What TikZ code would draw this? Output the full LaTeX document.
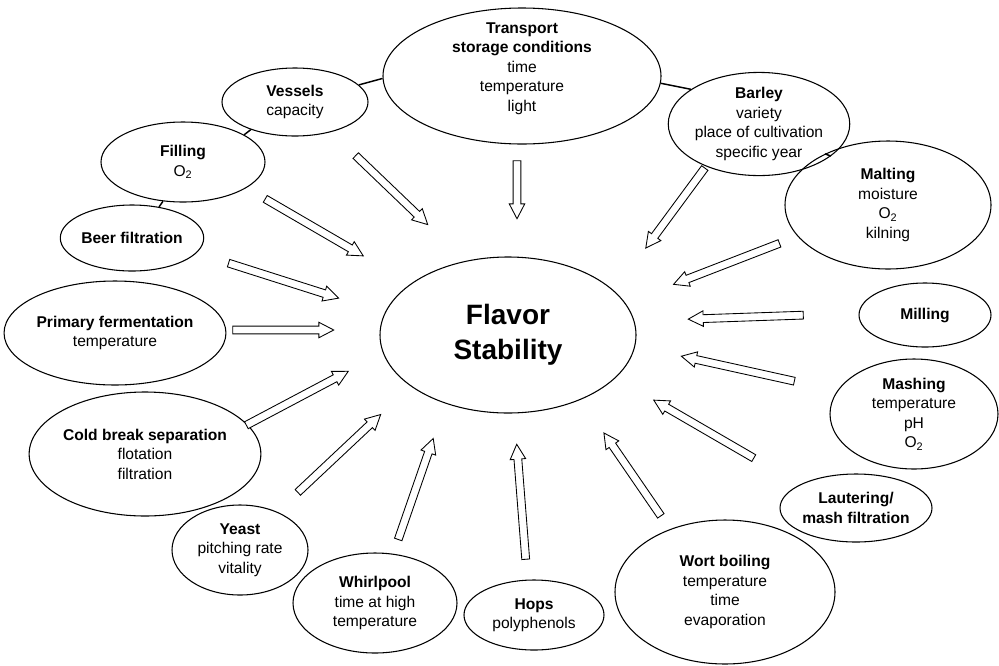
\documentclass[tikz,border=0pt]{standalone}
\usepackage{fontspec}
\setmainfont{Liberation Sans}
\usetikzlibrary{shapes.geometric,shapes.arrows,calc}
\tikzset{
  ell/.style={ellipse, draw, line width=0.8pt, inner sep=0pt, align=center,
    font=\fontsize{11.7}{14.6}\selectfont},
  esize/.style 2 args={minimum width=#1*1.5pt, minimum height=#2*1.5pt},
  txt/.style={inner sep=0pt, align=center, font=\fontsize{11.7}{14.6}\selectfont},
  link/.style={line width=1.1pt},
  fatarrow/.style={single arrow, draw, line width=0.65pt, inner sep=2.6pt,
    single arrow head extend=2.9pt, single arrow tip angle=55, fill=white},
}
\newcommand\hollowarrow[2]{%
  \path let \p1=($(#2)-(#1)$), \n1={atan2(\y1,\x1)}, \n2={veclen(\x1,\y1)} in
    node[fatarrow, minimum height=\n2, rotate=\n1] (arr#1) at ($(#1)!0.5!(#2)$) {};}
\begin{document}
\begin{tikzpicture}[x=0.75pt, y=-0.75pt]
\useasboundingbox (0,0) rectangle (999,665);

% centre
\node[ell, esize={128}{78}, font=\fontsize{21}{26}\selectfont\bfseries] (flavor) at (508,335) {Flavor\\Stability};

% surrounding factors
\node[ell, esize={139}{68}] (transport) at (522,76) {};
\node[txt] (transporttext) at (522,68.5) {\textbf{Transport}\\\textbf{storage conditions}\\time\\temperature\\light};
\node[ell, esize={73}{34}] (vessels) at (295,102) {\textbf{Vessels}\\capacity};
\node[ell, esize={82}{40}] (filling) at (183,162) {\textbf{Filling}\\O\textsubscript{2}};
\node[ell, esize={70}{33}] (beer) at (132,238) {\textbf{Beer filtration}};
\node[ell, esize={108}{52}] (primary) at (115,333) {\textbf{Primary fermentation}\\temperature};
\node[ell, esize={101}{62}] (coldbreak) at (145,454) {\textbf{Cold break separation}\\flotation\\filtration};
\node[ell, esize={68}{45}] (yeast) at (240,550) {\textbf{Yeast}\\pitching rate\\vitality};
\node[ell, esize={82}{50}] (whirlpool) at (375,603) {\textbf{Whirlpool}\\time at high\\temperature};
\node[ell, esize={70}{35}] (hops) at (534,615) {\textbf{Hops}\\polyphenols};
\node[ell, esize={110}{72}] (wort) at (725,592) {\textbf{Wort boiling}\\temperature\\time\\evaporation};
\node[ell, esize={70}{34}] (lautering) at (856,508) {\textbf{Lautering/}\\\textbf{mash filtration}};
\node[ell, esize={84}{55}] (mashing) at (914,414) {\textbf{Mashing}\\temperature\\pH\\O\textsubscript{2}};
\node[ell, esize={66}{32}] (milling) at (925,315) {\textbf{Milling}};
\node[ell, esize={103}{64}] (malting) at (888,205) {\textbf{Malting}\\moisture\\O\textsubscript{2}\\kilning};
\node[ell, esize={81}{44}] (barley) at (759,124) {\textbf{Barley}\\variety\\place of cultivation\\specific year};

% short links between neighbouring ellipses
\draw[link] (vessels.15) -- (transport.181);
\draw[link] (vessels.212) -- (filling.24);
\draw[link] (filling.243) -- (beer.49);
\draw[link] (transport.-3) -- (barley.153);
\draw[link] (barley.-24) -- (malting.141);

% arrow tails (t) and tips (h)
\coordinate (vt) at (353,153);  \coordinate (vh) at (425,222);
\coordinate (ft) at (262,197);  \coordinate (fh) at (360,254);
\coordinate (bt) at (225,262);  \coordinate (bh) at (335,297);
\coordinate (pt) at (229,330);  \coordinate (ph) at (330,330);
\coordinate (ct) at (243,427);  \coordinate (ch) at (345,373);
\coordinate (yt) at (295,495);  \coordinate (yh) at (378,417);
\coordinate (wt) at (397,543);  \coordinate (wh) at (432,442);
\coordinate (ht) at (526,563);  \coordinate (hh) at (517,448);
\coordinate (ot) at (663,519);  \coordinate (oh) at (606,436);
\coordinate (lt) at (757,460);  \coordinate (lh) at (657,402);
\coordinate (mt) at (798,382);  \coordinate (mh) at (685,357);
\coordinate (it) at (807,315);  \coordinate (ih) at (692,319);
\coordinate (at) at (783,242);  \coordinate (ah) at (677,283);
\coordinate (rt) at (707,165);  \coordinate (rh) at (648,245);
\coordinate (tt) at (517,157);  \coordinate (th) at (517,215);

\hollowarrow{vt}{vh}
\hollowarrow{ft}{fh}
\hollowarrow{bt}{bh}
\hollowarrow{pt}{ph}
\hollowarrow{ct}{ch}
\hollowarrow{yt}{yh}
\hollowarrow{wt}{wh}
\hollowarrow{ht}{hh}
\hollowarrow{ot}{oh}
\hollowarrow{lt}{lh}
\hollowarrow{mt}{mh}
\hollowarrow{it}{ih}
\hollowarrow{at}{ah}
\hollowarrow{rt}{rh}
\hollowarrow{tt}{th}
\end{tikzpicture}
\end{document}
